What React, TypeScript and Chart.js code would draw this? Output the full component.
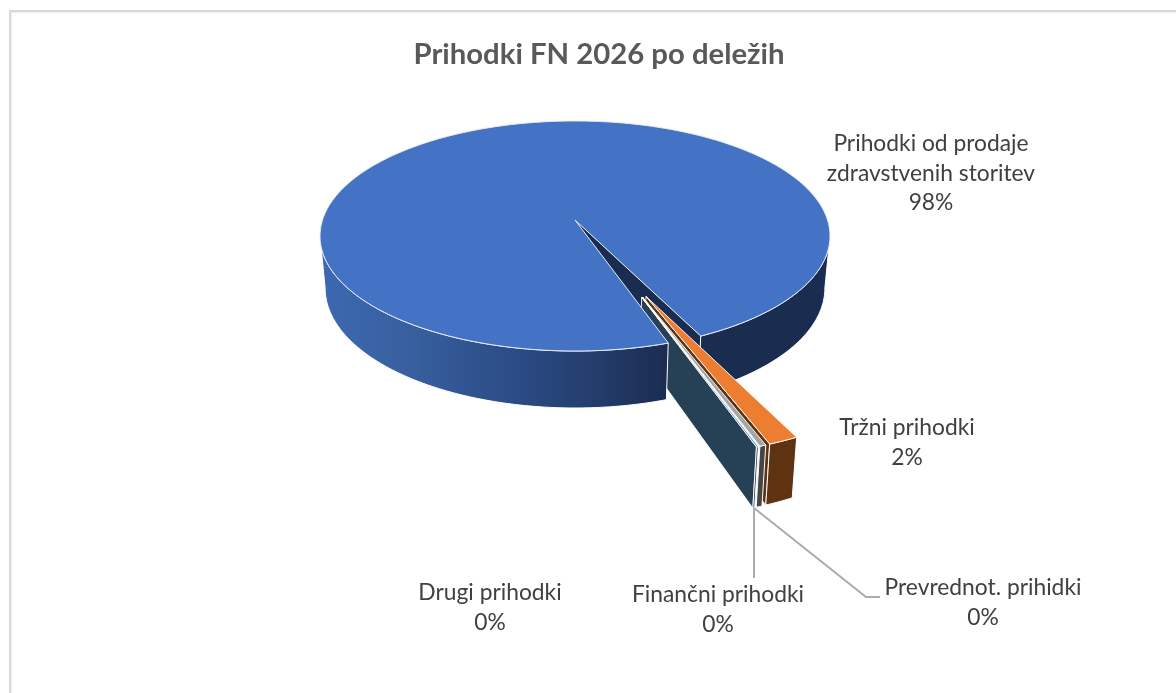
import React, { useEffect, useRef } from "react";
import { Chart, registerables } from "chart.js";

Chart.register(...registerables);

const chartTitle = "Prihodki FN 2026 po deležih";
const categories = [
  "Prihodki od prodaje zdravstvenih storitev",
  "Tržni prihodki",
  "Prevrednot. prihidki",
  "Finančni prihodki",
  "Drugi prihodki",
];
const shares = [98.02, 1.53, 0.32, 0.03, 0.1];

const labelLines = [
  ["Prihodki od prodaje", "zdravstvenih storitev"],
  ["Tržni prihodki"],
  ["Prevrednot. prihidki"],
  ["Finančni prihodki"],
  ["Drugi prihodki"],
];
const labelX = [931, 907, 983, 718, 490];
const labelY = [144, 428, 588, 595, 593];
const lineGap = 29.5;

const topColors = ["#4472C4", "#ED7D31", "#A5A5A5", "#FFC000", "#5B9BD5"];
const wallColors = ["#1A2C50", "#5F3312", "#454545", "#665000", "#264055"];
const explosion = [0, 67, 67, 67, 67];

const CX = 575, CY = 220, RX = 252.5, A = 112.8, P = 0.139, D = 51.3, K = 0.02;
type Pt = [number, number];

function proj(u: number, v: number, low = false): Pt {
  const w = 1 - P * v;
  const s = low ? 1 - K : 1;
  return [CX + (RX * u * s) / w, CY + (A * v * s) / w + (low ? D / w : 0)];
}

function poly(ctx: CanvasRenderingContext2D, pts: Pt[], fill: string | CanvasGradient, stroke = "#ffffff", lw = 1) {
  ctx.beginPath();
  pts.forEach((p, i) => (i ? ctx.lineTo(p[0], p[1]) : ctx.moveTo(p[0], p[1])));
  ctx.closePath();
  ctx.fillStyle = fill;
  ctx.fill();
  if (stroke) {
    ctx.strokeStyle = stroke;
    ctx.lineWidth = lw;
    ctx.lineJoin = "round";
    ctx.stroke();
  }
}

function rim(ox: number, oy: number, a0: number, a1: number, low = false): Pt[] {
  const n = Math.max(2, Math.ceil(Math.abs(a1 - a0) / 0.01));
  const out: Pt[] = [];
  for (let i = 0; i <= n; i++) {
    const t = a0 + ((a1 - a0) * i) / n;
    out.push(proj(ox + Math.cos(t), oy + Math.sin(t), low));
  }
  return out;
}

const pie3d = {
  id: "pie3d",
  beforeDatasetsDraw(chart: any) {
    const ctx: CanvasRenderingContext2D = chart.ctx;
    const arcs = chart.getDatasetMeta(0).data;

    // picture frame
    ctx.save();
    ctx.strokeStyle = "#DADADA";
    ctx.lineWidth = 2.5;
    ctx.beginPath();
    ctx.moveTo(10.2, 700);
    ctx.lineTo(10.2, 11.2);
    ctx.lineTo(1180, 11.2);
    ctx.stroke();

    const main = arcs[0];
    const s0 = main.startAngle, e0 = main.endAngle;
    const endNorm = e0 - 2 * Math.PI; // same direction, just before the start angle
    const groupMid = (e0 + s0 + 2 * Math.PI) / 2; // middle of the gap, in the small slices' angle range

    // right wall of the main slice and its radial wall facing the gap
    const rightTop = rim(0, 0, (8 * Math.PI) / 180, endNorm);
    const rightLow = rim(0, 0, (8 * Math.PI) / 180, endNorm, true);
    const apexTop = proj(0, 0);
    const apexLow = proj(0, 0, true);
    const edgeTop = proj(Math.cos(endNorm), Math.sin(endNorm));
    const edgeLow = proj(Math.cos(endNorm), Math.sin(endNorm), true);
    poly(ctx, [apexTop, edgeTop, edgeLow, apexLow], wallColors[0], "");
    poly(ctx, [...rightTop, ...rightLow.reverse()], wallColors[0]);

    // exploded small slices, far side first
    for (let i = 1; i < arcs.length; i++) {
      const a = arcs[i];
      const mid = groupMid + ((a.startAngle + a.endAngle) / 2 - groupMid) * 0.35;
      const off = (a.options.offset || 0) / 100;
      const ox = off * Math.cos(mid), oy = off * Math.sin(mid);
      const apT = proj(ox, oy), apL = proj(ox, oy, true);
      const eT = proj(ox + Math.cos(a.endAngle), oy + Math.sin(a.endAngle));
      const eL = proj(ox + Math.cos(a.endAngle), oy + Math.sin(a.endAngle), true);
      poly(ctx, [apT, eT, eL, apL], wallColors[i], "#ffffff", 0.8);
      const top = rim(ox, oy, a.startAngle, a.endAngle);
      const low = rim(ox, oy, a.startAngle, a.endAngle, true);
      poly(ctx, [...top, ...low.reverse()], wallColors[i], "#ffffff", 1);
      poly(ctx, [apT, ...top], topColors[i], "#ffffff", 0.9);
    }

    // front wall of the main slice
    const g = ctx.createLinearGradient(322, 0, 668, 0);
    g.addColorStop(0, "#3D68B2");
    g.addColorStop(0.25, "#38609F");
    g.addColorStop(0.55, "#2B4C86");
    g.addColorStop(0.8, "#233C6B");
    g.addColorStop(1, "#1A2C50");
    const leftTop = rim(0, 0, s0, (172 * Math.PI) / 180);
    const leftLow = rim(0, 0, s0, (172 * Math.PI) / 180, true);
    poly(ctx, [...leftTop, ...leftLow.reverse()], g, "#ffffff", 1);

    // top of the main slice
    poly(ctx, [apexTop, ...rim(0, 0, s0, e0)], topColors[0], "#E9EDF6", 1);
    ctx.restore();
    return false;
  },
  afterDraw(chart: any) {
    const ctx: CanvasRenderingContext2D = chart.ctx;
    const values: number[] = chart.data.datasets[0].data;
    const total = values.reduce((s, v) => s + v, 0);
    ctx.save();
    // leader lines
    ctx.strokeStyle = "#ABABAB";
    ctx.lineWidth = 2;
    ctx.beginPath();
    ctx.moveTo(754, 508);
    ctx.lineTo(754, 578);
    ctx.moveTo(754, 508);
    ctx.lineTo(866, 597);
    ctx.lineTo(880, 597);
    ctx.stroke();
    // data labels
    ctx.fillStyle = "#404040";
    ctx.font = "22.8px Lato";
    ctx.textAlign = "center";
    ctx.textBaseline = "middle";
    labelLines.forEach((lines, i) => {
      const all = [...lines, `${Math.round((values[i] / total) * 100)}%`];
      all.forEach((t, j) => ctx.fillText(t, labelX[i], labelY[i] + j * lineGap));
    });
    ctx.restore();
  },
};

export default function App() {
  const ref = useRef<HTMLCanvasElement>(null);
  useEffect(() => {
    const chart = new Chart(ref.current as HTMLCanvasElement, {
      type: "pie",
      data: {
        labels: categories,
        datasets: [{ data: shares, backgroundColor: topColors, offset: explosion, borderColor: "#ffffff" }],
      },
      options: {
        animation: false,
        responsive: false,
        rotation: 161.3,
        events: [],
        layout: { padding: { left: 22, top: 37 } },
        plugins: {
          legend: { display: false },
          tooltip: { enabled: false },
          title: {
            display: true,
            text: chartTitle,
            color: "#595959",
            font: { family: "Lato", size: 29.3, weight: "bold" },
            padding: 0,
          },
        },
      } as any,
      plugins: [pie3d as any],
    });
    return () => chart.destroy();
  }, []);
  return (
    <div style={{ position: "fixed", left: 0, top: 0, width: 1176, height: 693, background: "#fff" }}>
      <canvas ref={ref} width={1176} height={693} style={{ display: "block" }} />
    </div>
  );
}
